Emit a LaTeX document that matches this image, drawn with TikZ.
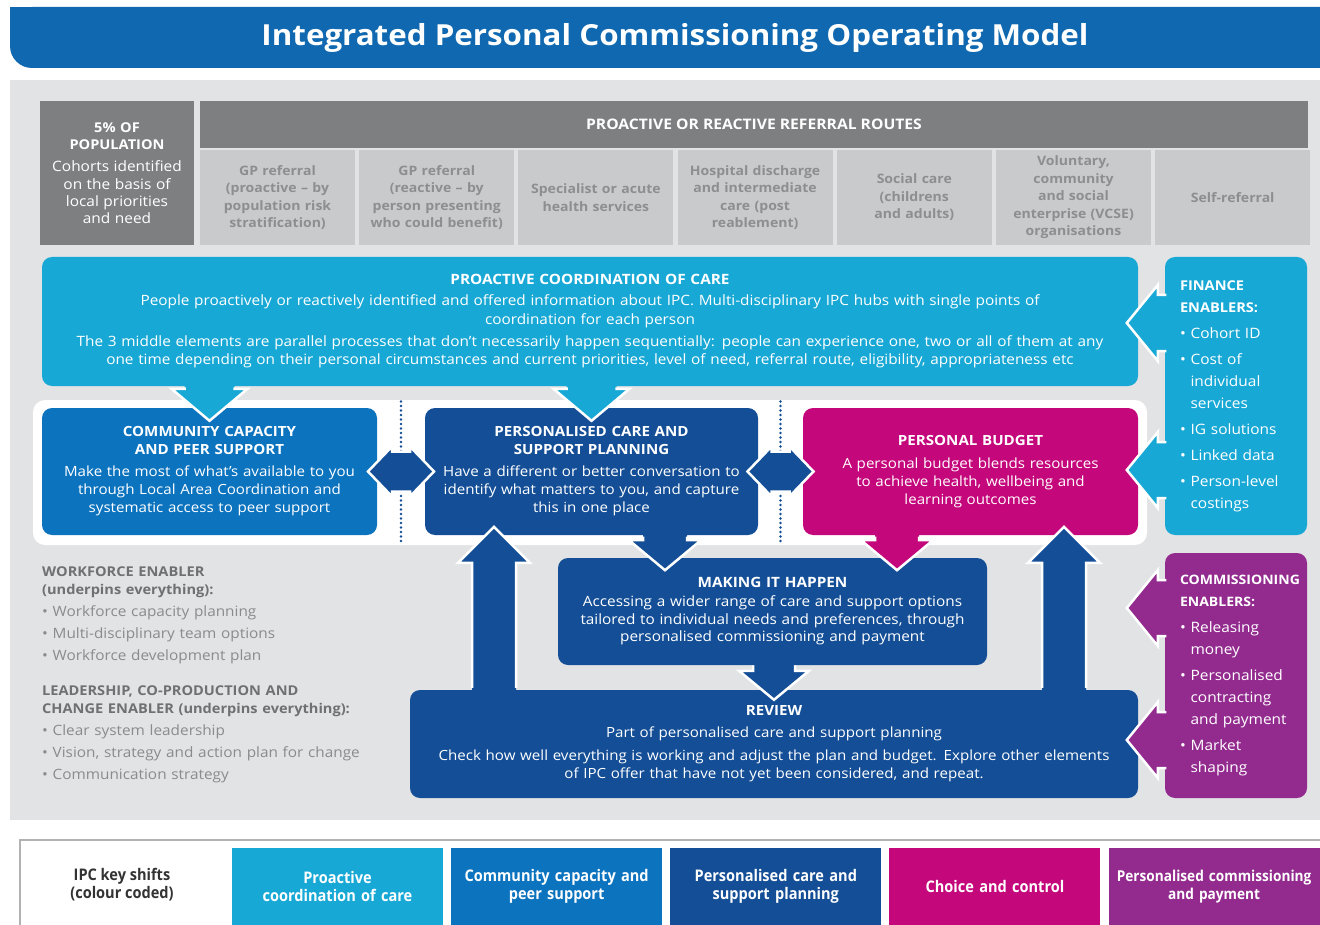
\documentclass[tikz,border=0pt]{standalone}
\usepackage{fontspec}
\setmainfont{Open Sans}[FakeStretch=1.08]
\newfontfamily\keyfont{Open Sans}[FakeStretch=0.91]
\usetikzlibrary{positioning, calc}

\definecolor{titleblue}{HTML}{1069B0}
\definecolor{panelgrey}{HTML}{E2E3E4}
\definecolor{darkgrey}{HTML}{7E7F81}
\definecolor{cellgrey}{HTML}{C8CACC}
\definecolor{celltext}{HTML}{8C8E90}
\definecolor{ipccyan}{HTML}{18A8D5}
\definecolor{ipcblue}{HTML}{0C73BF}
\definecolor{ipcnavy}{HTML}{134E96}
\definecolor{ipcpink}{HTML}{C5077C}
\definecolor{ipcpurple}{HTML}{932B8F}
\definecolor{enabtext}{HTML}{898B8D}
\definecolor{enabhead}{HTML}{6F7072}

\begin{document}
\begin{tikzpicture}
[
	x=1pt, y=-1pt,
	node distance={3.8pt},
	hdr/.style = {fill=darkgrey, text=white, inner sep=0pt, align=center, font=\bfseries\fontsize{13.5}{17}\selectfont},
	cell/.style = {fill=cellgrey, text=celltext, minimum width=155pt, minimum height=95pt, text width=152pt, inner sep=0pt, align=center, font=\bfseries\fontsize{13}{17.5}\selectfont},
	box/.style = {rounded corners=10pt, text=white, inner sep=0pt, align=center, font=\fontsize{14}{18}\selectfont},
	enab/.style = {rounded corners=10pt, text=white, inner sep=0pt, minimum width=142pt, text width=112pt, align=left, font=\fontsize{14.3}{22}\selectfont},
	key/.style = {minimum width=211pt, minimum height=77pt, text width=211pt, inner sep=0pt, text=white, align=center, font=\keyfont\bfseries\fontsize{16}{18}\selectfont},
	wline/.style = {draw=white, line width=2.5pt, line join=miter},
	dots/.style = {draw=ipcnavy, line width=2.6pt, line cap=round, dash pattern=on 0pt off 4.5pt}
]
\useasboundingbox (0,0) rectangle (1320,925);
\clip (0,0) rectangle (1320,925);

% title bar
\fill[titleblue, rounded corners=22pt] (10,7) rectangle (1360,68);
\fill[titleblue] (10,7) rectangle (60,30);
\node[text=white, font=\bfseries\fontsize{29}{30}\selectfont] (title) at (675,38) {Integrated Personal Commissioning Operating Model};

% grey panel
\fill[panelgrey] (10,80) rectangle (1330,820);

% referral routes
\node[hdr, minimum width=154pt, minimum height=144pt, text width=150pt] (pop) at (117,173) {5\% OF\\POPULATION\\[5pt]{\mdseries\fontsize{14.3}{17.5}\selectfont Cohorts identified\\on the basis of\\local priorities\\and need}};
\node[hdr, minimum width=1108pt, minimum height=47pt, font=\bfseries\fontsize{14.5}{17}\selectfont] (routes) at (754,124.5) {PROACTIVE OR REACTIVE REFERRAL ROUTES};
\node[cell] (r1) at (277.5,197.5) {GP referral\\(proactive -- by\\population risk\\stratification)};
\node[cell, right=of r1] (r2) {GP referral\\(reactive -- by\\person presenting\\who could benefit)};
\node[cell, right=of r2] (r3) {Specialist or acute\\health services};
\node[cell, right=of r3] (r4) {Hospital discharge\\and intermediate\\care (post\\reablement)};
\node[cell, right=of r4] (r5) {Social care\\(childrens\\and adults)};
\node[cell, right=of r5] (r6) {Voluntary,\\community\\and social\\enterprise (VCSE)\\organisations};
\node[cell, right=of r6] (r7) {Self-referral};

% proactive coordination
\node[box, fill=ipccyan, minimum width=1096pt, minimum height=129pt, text width=1080pt, font=\fontsize{14.2}{18.5}\selectfont] (coord) at (590,321.5) {\textbf{PROACTIVE COORDINATION OF CARE}\\[2.5pt]People proactively or reactively identified and offered information about IPC. Multi-disciplinary IPC hubs with single points of\\coordination for each person\\[3.5pt]The 3 middle elements are parallel processes that don't necessarily happen sequentially: people can experience one, two or all of them at any\\one time depending on their personal circumstances and current priorities, level of need, referral route, eligibility, appropriateness etc};

% the three parallel elements
\fill[white, rounded corners=12pt] (33,400) rectangle (1147,545);
\node[box, fill=ipcblue, minimum width=335pt, minimum height=127pt, text width=330pt] (comm) at (209.5,471.5) {\textbf{COMMUNITY CAPACITY\\AND PEER SUPPORT}\\[4pt]Make the most of what's available to you\\through Local Area Coordination and\\systematic access to peer support};
\node[box, fill=ipcnavy, minimum width=333pt, minimum height=127pt, text width=330pt] (pcsp) at (591.5,471.5) {\textbf{PERSONALISED CARE AND\\SUPPORT PLANNING}\\[4pt]Have a different or better conversation to\\identify what matters to you, and capture\\this in one place};
\node[box, fill=ipcpink, minimum width=335pt, minimum height=127pt, text width=330pt] (budget) at (970.5,471.5) {\textbf{PERSONAL BUDGET}\\[5pt]A personal budget blends resources\\to achieve health, wellbeing and\\learning outcomes};

% review and the loop back up
\node[box, fill=ipcnavy, minimum width=728pt, minimum height=108pt, text width=715pt] (review) at (774,744) {\textbf{REVIEW}\\[4pt]Part of personalised care and support planning\\[5pt]Check how well everything is working and adjust the plan and budget. Explore other elements\\of IPC offer that have not yet been considered, and repeat.};
\fill[ipcnavy] ([xshift=-280pt]review.north) ++(-22,10) -- ++(0,-137) -- ++(-14,0) -- ++(36,-36) -- ++(36,36) -- ++(-14,0) -- ++(0,137) -- cycle;
\draw[wline] ([xshift=-280pt]review.north) ++(-22,-2) -- ++(0,-125) -- ++(-14,0) -- ++(36,-36) -- ++(36,36) -- ++(-14,0) -- ++(0,125);
\fill[ipcnavy] ([xshift=290pt]review.north) ++(-22,10) -- ++(0,-137) -- ++(-14,0) -- ++(36,-36) -- ++(36,36) -- ++(-14,0) -- ++(0,137) -- cycle;
\draw[wline] ([xshift=290pt]review.north) ++(-22,-2) -- ++(0,-125) -- ++(-14,0) -- ++(36,-36) -- ++(36,36) -- ++(-14,0) -- ++(0,125);
\filldraw[fill=ipcnavy, wline] (review.north) ++(-21,-30) -- ++(0,11) -- ++(-14,0) -- ++(35,29) -- ++(35,-29) -- ++(-14,0) -- ++(0,-11) -- cycle;

% making it happen
\node[box, fill=ipcnavy, minimum width=429pt, minimum height=107pt, text width=424pt, font=\fontsize{14.2}{17.5}\selectfont] (mih) at (772.5,611.5) {\textbf{MAKING IT HAPPEN}\\[1.5pt]Accessing a wider range of care and support options\\tailored to individual needs and preferences, through\\personalised commissioning and payment};
\fill[ipcnavy] ([xshift=73.5pt]pcsp.south) ++(-22,-5) -- ++(0,10) -- ++(-14,0) -- ++(36,30) -- ++(36,-30) -- ++(-14,0) -- ++(0,-10) -- cycle;
\draw[wline] ([xshift=73.5pt]pcsp.south) ++(-22,1.5) -- ++(0,3.5) -- ++(-14,0) -- ++(36,30) -- ++(36,-30) -- ++(-14,0) -- ++(0,-3.5);
\fill[ipcpink] ([xshift=-73.5pt]budget.south) ++(-22,-5) -- ++(0,10) -- ++(-14,0) -- ++(36,30) -- ++(36,-30) -- ++(-14,0) -- ++(0,-10) -- cycle;
\draw[wline] ([xshift=-73.5pt]budget.south) ++(-22,1.5) -- ++(0,3.5) -- ++(-14,0) -- ++(36,30) -- ++(36,-30) -- ++(-14,0) -- ++(0,-3.5);

% coordination feeds the first two
\fill[ipccyan] (comm.north) ++(-25,-28) -- ++(0,9) -- ++(-13,0) -- ++(38,32) -- ++(38,-32) -- ++(-13,0) -- ++(0,-9) -- cycle;
\draw[wline] (comm.north) ++(-25,-20.5) -- ++(0,1.5) -- ++(-13,0) -- ++(38,32) -- ++(38,-32) -- ++(-13,0) -- ++(0,-1.5);
\fill[ipccyan] (pcsp.north) ++(-25,-28) -- ++(0,9) -- ++(-13,0) -- ++(38,32) -- ++(38,-32) -- ++(-13,0) -- ++(0,-9) -- cycle;
\draw[wline] (pcsp.north) ++(-25,-20.5) -- ++(0,1.5) -- ++(-13,0) -- ++(38,32) -- ++(38,-32) -- ++(-13,0) -- ++(0,-1.5);

% parallel dividers
\draw[dots] ($(comm.east)!0.5!(pcsp.west)$) ++(0,-70) -- ++(0,140);
\draw[dots] ($(pcsp.east)!0.5!(budget.west)$) ++(0,-70) -- ++(0,140);
\filldraw[fill=ipcnavy, wline] ($(comm.east)!0.5!(pcsp.west)$) ++(-33,0) -- ++(24,-25) -- ++(0,5) -- ++(18,0) -- ++(0,-5) -- ++(24,25) -- ++(-24,25) -- ++(0,-5) -- ++(-18,0) -- ++(0,5) -- cycle;
\filldraw[fill=ipcnavy, wline] ($(pcsp.east)!0.5!(budget.west)$) ++(-33,0) -- ++(24,-25) -- ++(0,5) -- ++(18,0) -- ++(0,-5) -- ++(24,25) -- ++(-24,25) -- ++(0,-5) -- ++(-18,0) -- ++(0,5) -- cycle;

% enablers
\node[enab, fill=ipccyan, minimum height=278pt] (fin) at (1236,396) {{\bfseries\fontsize{13.5}{22}\selectfont FINANCE\\ENABLERS:}\\[4pt]• Cohort ID\\[4pt]• Cost of\\\phantom{• }individual\\\phantom{• }services\\[4pt]• IG solutions\\[4pt]• Linked data\\[4pt]• Person-level\\\phantom{• }costings};
\node[enab, fill=ipcpurple, minimum height=245pt] (com) at (1236,675.5) {{\bfseries\fontsize{13}{22}\selectfont COMMISSIONING\\ENABLERS:}\\[4pt]• Releasing\\\phantom{• }money\\[4pt]• Personalised\\\phantom{• }contracting\\\phantom{• }and payment\\[4pt]• Market\\\phantom{• }shaping};
\fill[ipccyan] ([yshift=73pt]fin.west) ++(6,-28) -- ++(-13,0) -- ++(0,-10) -- ++(-31,38) -- ++(31,38) -- ++(0,-10) -- ++(13,0) -- cycle;
\draw[wline] ([yshift=73pt]fin.west) ++(1.5,-28) -- ++(-8.5,0) -- ++(0,-10) -- ++(-31,38) -- ++(31,38) -- ++(0,-10) -- ++(8.5,0);
\fill[ipccyan] ([yshift=-74pt]fin.west) ++(6,-28) -- ++(-13,0) -- ++(0,-10) -- ++(-31,38) -- ++(31,38) -- ++(0,-10) -- ++(13,0) -- cycle;
\draw[wline] ([yshift=-74pt]fin.west) ++(1.5,-28) -- ++(-8.5,0) -- ++(0,-10) -- ++(-31,38) -- ++(31,38) -- ++(0,-10) -- ++(8.5,0);
\fill[ipcpurple] ([yshift=67.5pt]com.west) ++(6,-28) -- ++(-13,0) -- ++(0,-10) -- ++(-31,38) -- ++(31,38) -- ++(0,-10) -- ++(13,0) -- cycle;
\draw[wline] ([yshift=67.5pt]com.west) ++(1.5,-28) -- ++(-8.5,0) -- ++(0,-10) -- ++(-31,38) -- ++(31,38) -- ++(0,-10) -- ++(8.5,0);
\fill[ipcpurple] ([yshift=-64.5pt]com.west) ++(6,-28) -- ++(-13,0) -- ++(0,-10) -- ++(-31,38) -- ++(31,38) -- ++(0,-10) -- ++(13,0) -- cycle;
\draw[wline] ([yshift=-64.5pt]com.west) ++(1.5,-28) -- ++(-8.5,0) -- ++(0,-10) -- ++(-31,38) -- ++(31,38) -- ++(0,-10) -- ++(8.5,0);

% workforce and leadership
\node[anchor=north west, text width=380pt, align=left, inner sep=0pt, text=enabtext, font=\fontsize{14.2}{22}\selectfont] (work) at (42,567) {{\color{enabhead}\bfseries\fontsize{13.5}{22}\selectfont WORKFORCE ENABLER\\[-4pt](underpins everything):}\\• Workforce capacity planning\\• Multi-disciplinary team options\\• Workforce development plan\\[13pt]{\color{enabhead}\bfseries\fontsize{13.5}{22}\selectfont LEADERSHIP, CO-PRODUCTION AND\\[-4pt]CHANGE ENABLER (underpins everything):}\\• Clear system leadership\\• Vision, strategy and action plan for change\\• Communication strategy};

% key
\draw[gray!60, line width=1.5pt] (20,930) -- (20,840) -- (1330,840);
\node[align=center, text=black!80, font=\keyfont\bfseries\fontsize{16}{18}\selectfont] (keyhead) at (122,885) {IPC key shifts\\(colour coded)};
\node[key, fill=ipccyan] (k1) at (337.5,886.5) {Proactive\\coordination of care};
\node[key, fill=ipcblue, right=7.75pt of k1] (k2) {Community capacity and\\peer support};
\node[key, fill=ipcnavy, right=7.75pt of k2] (k3) {Personalised care and\\support planning};
\node[key, fill=ipcpink, right=7.75pt of k3] (k4) {Choice and control};
\node[key, fill=ipcpurple, right=7.75pt of k4, font=\keyfont\bfseries\fontsize{15}{18}\selectfont] (k5) {Personalised commissioning\\and payment};
\end{tikzpicture}
\end{document}
